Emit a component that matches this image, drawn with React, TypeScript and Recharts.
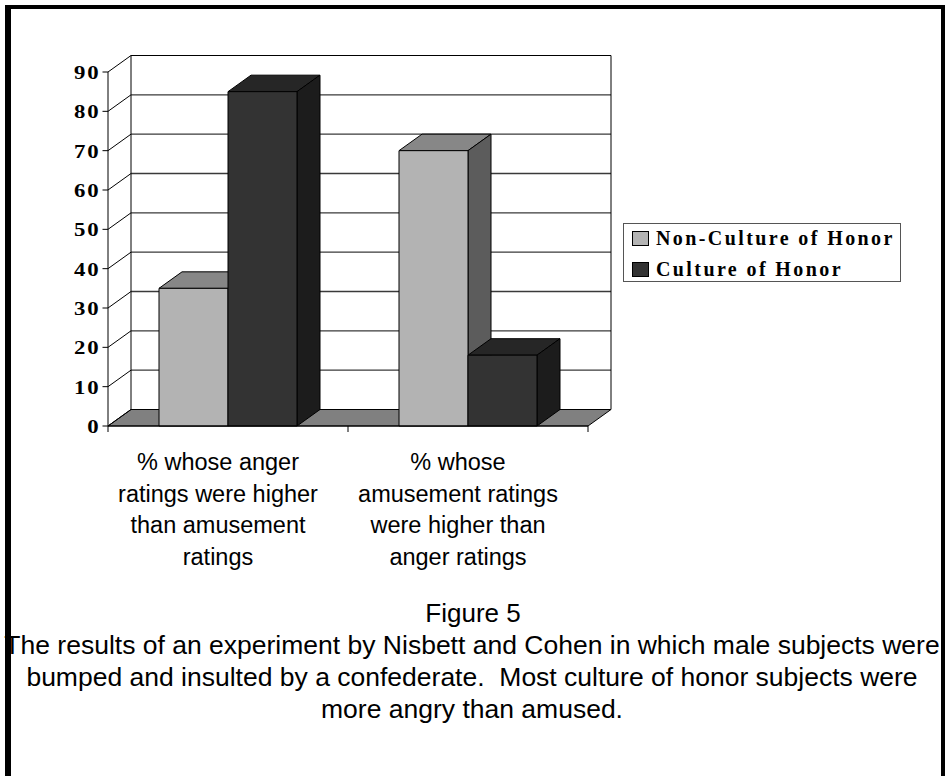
import React from 'react'
import {BarChart, Bar, XAxis, YAxis, CartesianGrid, Legend} from 'recharts'

// data
const categories = [
    '% whose anger ratings were higher than amusement ratings',
    '% whose amusement ratings were higher than anger ratings',
]
const categoryLines = [
    ['% whose anger', 'ratings were higher', 'than amusement', 'ratings'],
    ['% whose', 'amusement ratings', 'were higher than', 'anger ratings'],
]
const nonHonor = [35, 70]
const honor = [85, 18]
const yTicks = [0, 10, 20, 30, 40, 50, 60, 70, 80, 90]

const seriesInfo = [
    {key: 'nonHonor', name: 'Non-Culture of Honor', front: '#b3b3b3', top: '#878787', side: '#5c5c5c'},
    {key: 'honor', name: 'Culture of Honor', front: '#333333', top: '#262626', side: '#1c1c1c'},
]

const rows = categories.map((name, i) => ({name, nonHonor: nonHonor[i], honor: honor[i]}))

// layout of the front plane of the 3d box
const W = 947
const H = 776
const PLOT_LEFT = 108
const PLOT_RIGHT = 588
const PLOT_TOP = 72
const PLOT_BOTTOM = 426
const XAXIS_H = 150
const DX = 23
const DY = 16.5

const serif = '"Liberation Serif", "Times New Roman", serif'
const sans = '"Liberation Sans", Arial, sans-serif'

const box3d = (top: string, side: string) => (p: any) => {
    const {x, y, width, height, fill} = p
    if (height == null || width == null) return <g/>
    const r = x + width, b = y + height
    return (
        <g stroke="#000" strokeWidth={1} strokeLinejoin="round">
            <polygon points={`${x},${y} ${r},${y} ${r + DX},${y - DY} ${x + DX},${y - DY}`} fill={top}/>
            <polygon points={`${r},${y} ${r + DX},${y - DY} ${r + DX},${b - DY} ${r},${b}`} fill={side}/>
            <rect x={x} y={y} width={width} height={height} fill={fill}/>
        </g>
    )
}

const wallLine = (p: any) => {
    const {x1, x2, y1} = p
    const isFloor = Math.abs(y1 - PLOT_BOTTOM) < 1
    const isTop = Math.abs(y1 - PLOT_TOP) < 1
    return (
        <g key={`wall-${y1}`}>
            {isFloor ? (
                <polygon
                    points={`${x1},${y1} ${x2},${y1} ${x2 + DX},${y1 - DY} ${x1 + DX},${y1 - DY}`}
                    fill="#808080" stroke="#000" strokeWidth={1}/>
            ) : (
                <line x1={x1 + DX} y1={y1 - DY} x2={x2 + DX} y2={y1 - DY}
                      stroke={isTop ? '#000' : '#3a3a3a'} strokeWidth={isTop ? 1 : 1.4}/>
            )}
            <line x1={x1} y1={y1} x2={x1 + DX} y2={y1 - DY} stroke="#000" strokeWidth={1}/>
            {isTop && (
                <>
                    <line x1={x1 + DX} y1={y1 - DY} x2={x1 + DX} y2={PLOT_BOTTOM - DY} stroke="#000"/>
                    <line x1={x2 + DX} y1={y1 - DY} x2={x2 + DX} y2={PLOT_BOTTOM - DY} stroke="#000"/>
                </>
            )}
        </g>
    )
}

const YTick = (p: any) => {
    const {x, y, payload} = p
    return (
        <text transform={`translate(${x},${y}) scale(1.2,1)`} textAnchor="end" dy="0.36em"
              fontFamily={serif} fontWeight="bold" fontSize={19} letterSpacing={1.5} fill="#000">
            {payload.value}
        </text>
    )
}

const XTick = (p: any) => {
    const {x, index} = p
    const band = (PLOT_RIGHT - PLOT_LEFT) / categories.length
    const left = PLOT_LEFT + index * band
    const lines = categoryLines[index] || []
    return (
        <g>
            <line x1={left} y1={PLOT_BOTTOM} x2={left} y2={PLOT_BOTTOM + 6} stroke="#000"/>
            {index === categories.length - 1 && (
                <line x1={left + band} y1={PLOT_BOTTOM} x2={left + band} y2={PLOT_BOTTOM + 6} stroke="#000"/>
            )}
            <text textAnchor="middle" fontFamily={sans} fontSize={23.5} fill="#000">
                {lines.map((t, i) => (
                    <tspan key={i} x={x - 10} y={PLOT_BOTTOM + 44 + i * 31.5}>{t}</tspan>
                ))}
            </text>
        </g>
    )
}

const LegendBox = () => (
    <div style={{
        position: 'relative', width: 278, height: 59, boxSizing: 'border-box',
        border: '1px solid #555', background: '#fff'
    }}>
        {seriesInfo.map((s, i) => (
            <div key={s.key} style={{
                position: 'absolute', left: 8, top: 6 + i * 31, height: 17,
                display: 'flex', alignItems: 'center', whiteSpace: 'nowrap'
            }}>
                <span style={{
                    display: 'inline-block', width: 17, height: 15, boxSizing: 'border-box',
                    border: '1px solid #000', background: s.front, marginRight: 7
                }}/>
                <span style={{
                    fontFamily: serif, fontWeight: 'bold', fontSize: 20, letterSpacing: 2.4,
                    lineHeight: '17px', color: '#000'
                }}>{s.name}</span>
            </div>
        ))}
    </div>
)

const caption = [
    'The results of an experiment by Nisbett and Cohen in which male subjects were',
    'bumped and insulted by a confederate.  Most culture of honor subjects were',
    'more angry than amused.',
]

export default function App() {
    return (
        <div style={{position: 'relative', width: W, height: H, overflow: 'hidden', background: '#fff'}}>
            <style>{'body{margin:0;}'}</style>
            <div style={{
                position: 'absolute', left: 5, top: 5, width: 940, height: 771, boxSizing: 'border-box',
                borderLeft: '6px solid #000', borderTop: '4px solid #000', borderRight: '4px solid #000'
            }}/>
            <div style={{position: 'absolute', left: 0, top: 0}}>
                <BarChart width={W} height={H} data={rows} barGap={0} barSize={69}
                          margin={{top: PLOT_TOP, right: W - PLOT_RIGHT, left: 0, bottom: H - PLOT_BOTTOM - XAXIS_H}}>
                    <CartesianGrid vertical={false} horizontal={wallLine}/>
                    <XAxis dataKey="name" height={XAXIS_H} interval={0} tickLine={false}
                           axisLine={{stroke: '#000'}} tick={XTick}/>
                    <YAxis domain={[0, 90]} ticks={yTicks} width={PLOT_LEFT} interval={0} tickSize={5.5}
                           axisLine={{stroke: '#000'}} tickLine={{stroke: '#000'}} tick={YTick}/>
                    <Legend layout="vertical" align="center" verticalAlign="middle" content={LegendBox}
                            wrapperStyle={{position: 'absolute', left: 623, top: 223, width: 278}}/>
                    {seriesInfo.map(s => (
                        <Bar key={s.key} dataKey={s.key} name={s.name} fill={s.front}
                             shape={box3d(s.top, s.side)} isAnimationActive={false}/>
                    ))}
                </BarChart>
            </div>
            <svg width={W} height={H} style={{position: 'absolute', left: 0, top: 0, pointerEvents: 'none'}}>
                <text x={473} y={622} textAnchor="middle" fontFamily={sans} fontSize={26}>Figure 5</text>
                {caption.map((t, i) => (
                    <text key={i} x={472} y={654 + i * 32} textAnchor="middle" fontFamily={sans}
                          fontSize={26.5} style={{whiteSpace: 'pre'}}>{t}</text>
                ))}
            </svg>
        </div>
    )
}
